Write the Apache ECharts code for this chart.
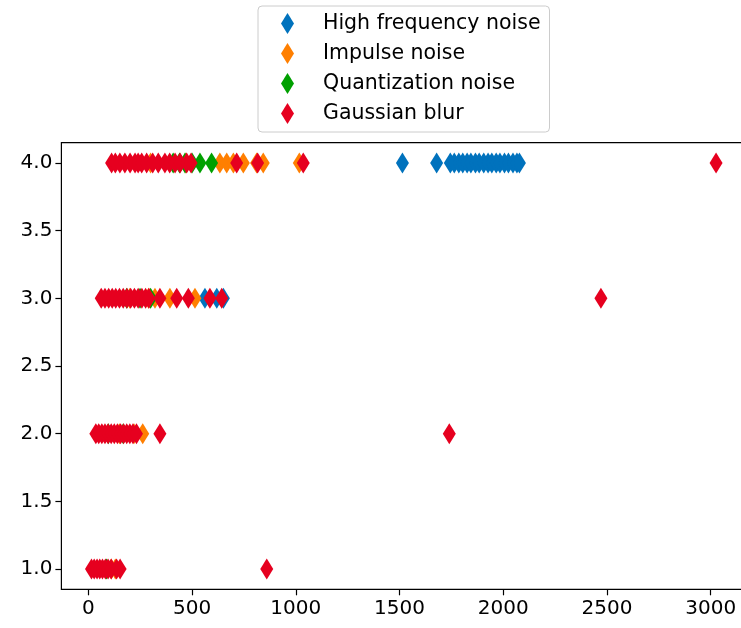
<!DOCTYPE html>
<html>
<head>
<meta charset="utf-8">
<script src="https://cdn.jsdelivr.net/npm/echarts@6/dist/echarts.min.js"></script>
<style>
  html, body { margin: 0; padding: 0; background: #fff; }
  #chart { width: 741px; height: 628px; }
</style>
</head>
<body>
<div id="chart"></div>
<script>
// tick labels
var xTicks = [0, 500, 1000, 1500, 2000, 2500, 3000];
var yTicks = [1.0, 1.5, 2.0, 2.5, 3.0, 3.5, 4.0];

var seriesNames = ['High frequency noise', 'Impulse noise', 'Quantization noise', 'Gaussian blur'];
var seriesColors = ['#0072bd', '#ff7f00', '#00a000', '#e6001f'];

// [x, level] pairs
var highFreq = [
    [1514, 4], [1679, 4], [1745, 4], [1764, 4], [1786, 4], [1805, 4], [1826, 4], [1844, 4],
    [1866, 4], [1884, 4], [1906, 4], [1927, 4], [1945, 4], [1966, 4], [1984, 4], [2006, 4],
    [2025, 4], [2047, 4], [2066, 4], [2078, 4],
    [562, 3], [619, 3], [651, 3]
];
var impulse = [
    [300, 4], [470, 4], [634, 4], [667, 4], [699, 4], [747, 4], [811, 4], [843, 4], [1017, 4],
    [200, 3], [290, 3], [321, 3], [393, 3], [514, 3],
    [150, 2], [220, 2], [262, 2],
    [110, 1], [130, 1]
];
var quantization = [
    [409, 4], [440, 4], [466, 4], [500, 4], [538, 4], [594, 4],
    [185, 3], [249, 3], [300, 3],
    [96, 2], [168, 2],
    [88, 1]
];
var gaussian = [
    [112, 4], [130, 4], [152, 4], [176, 4], [201, 4], [225, 4], [240, 4], [257, 4], [281, 4],
    [310, 4], [337, 4], [369, 4], [392, 4], [418, 4], [442, 4], [474, 4], [495, 4], [715, 4],
    [816, 4], [1036, 4], [3026, 4],
    [62, 3], [80, 3], [98, 3], [115, 3], [132, 3], [150, 3], [168, 3], [186, 3], [204, 3],
    [222, 3], [240, 3], [258, 3], [276, 3], [292, 3], [345, 3], [426, 3], [482, 3], [586, 3],
    [643, 3], [2471, 3],
    [36, 2], [50, 2], [65, 2], [80, 2], [95, 2], [110, 2], [125, 2], [140, 2], [155, 2],
    [170, 2], [185, 2], [200, 2], [215, 2], [232, 2], [345, 2], [1740, 2],
    [15, 1], [28, 1], [42, 1], [55, 1], [68, 1], [82, 1], [95, 1], [110, 1], [136, 1],
    [153, 1], [860, 1]
];
var allData = [highFreq, impulse, quantization, gaussian];

var chart = echarts.init(document.getElementById('chart'), null, { renderer: 'canvas' });

var labelFont = 'DejaVu Sans';

var series = [];
for (var i = 0; i < allData.length; i++) {
    series.push({
        name: seriesNames[i],
        type: 'scatter',
        data: allData[i],
        symbol: 'diamond',
        symbolSize: [13, 21],
        itemStyle: { color: seriesColors[i], opacity: 1 },
        emphasis: { disabled: true },
        z: 2 + i
    });
}

var option = {
    animation: false,
    backgroundColor: '#fff',
    grid: {
        left: 61.4,
        right: -7,
        top: 142.7,
        bottom: 38.7,
        outerBoundsMode: 'none',
        show: true,
        borderColor: '#000',
        borderWidth: 1.2,
        backgroundColor: 'transparent'
    },
    legend: {
        orient: 'vertical',
        left: 258,
        top: 6,
        padding: [7, 9, 8, 23],
        itemGap: 9,
        itemWidth: 13,
        itemHeight: 21,
        icon: 'diamond',
        backgroundColor: '#fff',
        borderColor: '#cccccc',
        borderWidth: 1,
        borderRadius: 4,
        textStyle: {
            fontFamily: labelFont,
            fontSize: 20.5,
            color: '#000',
            padding: [0, 0, 0, 24]
        },
        data: seriesNames
    },
    xAxis: {
        type: 'value',
        min: -130,
        max: 3180,
        axisLine: { show: false, onZero: false },
        splitLine: { show: false },
        axisTick: {
            show: true,
            length: 6,
            customValues: xTicks,
            lineStyle: { color: '#000', width: 1.2 }
        },
        axisLabel: {
            customValues: xTicks,
            margin: 9,
            fontFamily: labelFont,
            fontSize: 20,
            color: '#000',
            formatter: function (v) { return String(v); }
        }
    },
    yAxis: {
        type: 'value',
        min: 0.85,
        max: 4.15,
        axisLine: { show: false, onZero: false },
        splitLine: { show: false },
        axisTick: {
            show: true,
            length: 6,
            customValues: yTicks,
            lineStyle: { color: '#000', width: 1.2 }
        },
        axisLabel: {
            customValues: yTicks,
            margin: 9,
            fontFamily: labelFont,
            fontSize: 20,
            color: '#000',
            formatter: function (v) { return v.toFixed(1); }
        }
    },
    series: series
};

chart.setOption(option);
</script>
</body>
</html>
